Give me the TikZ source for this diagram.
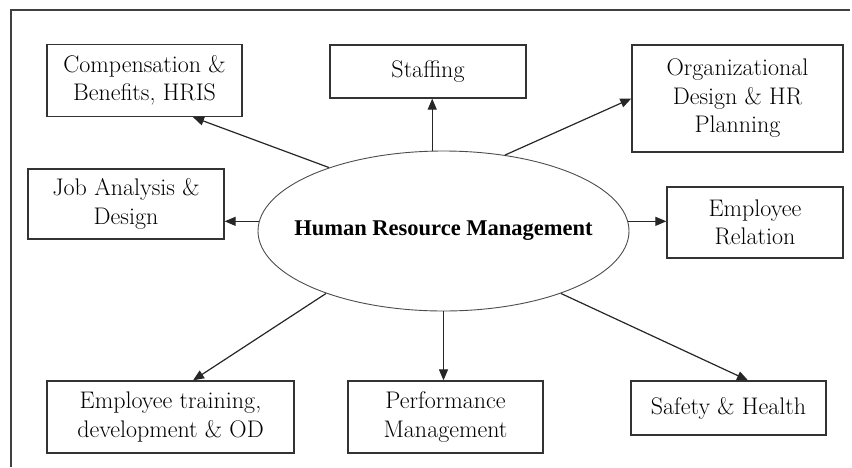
\documentclass[tikz,border=0pt]{standalone}
\usepackage{fontspec}
\newfontfamily\hrmfont{Liberation Serif}
\usetikzlibrary{shapes.geometric,arrows.meta}

\begin{document}
\begin{tikzpicture}[x=1pt,y=-1pt]
	\tikzset{area/.style={
			draw=black!80,
			line width=1.3pt,
			align=center,
			inner sep=0pt,
			font=\fontsize{24}{28.5}\selectfont},
		link/.style={-{Triangle[length=11pt,width=9pt]}, line width=1.2pt, black!85}}
	
	\useasboundingbox (0,0) rectangle (852,467);
	
	%% FRAME
	\draw[line width=1.3pt, black!75] (11,467) -- (11,10) -- (850,10);
	
	%% CENTRE
	\node[ellipse, draw=black!70, line width=0.9pt, minimum width=371, minimum height=160, inner sep=0pt] (HRM) at (443.5,231) {};
	\node[font=\hrmfont\bfseries\fontsize{22.5}{26}\selectfont, inner sep=0pt] (HRMText) at (HRM.center) {Human Resource Management};
	
	%% FUNCTIONS
	\node[area, minimum width=195, minimum height=72] (Comp) at (144.5,80.5) {Compensation \&\\Benefits, HRIS};
	\node[area, minimum width=196, minimum height=53] (Staff) at (428,71.5) {Staffing};
	\node[area, minimum width=211, minimum height=107] (Org) at (737.5,98.5) {Organizational\\Design \& HR\\Planning};
	\node[area, minimum width=196, minimum height=70] (Job) at (126,204) {Job Analysis \&\\Design};
	\node[area, minimum width=176, minimum height=71] (Rel) at (755,222.5) {Employee\\Relation};
	\node[area, minimum width=247, minimum height=72] (Train) at (170.5,417) {Employee training,\\development \& OD};
	\node[area, minimum width=195, minimum height=72] (Perf) at (445.5,417) {Performance\\Management};
	\node[area, minimum width=195, minimum height=54] (Safe) at (728.5,408) {Safety \& Health};
	
	\draw[link] (HRM.151) -- ([xshift=48.5pt]Comp.south);
	\draw[link] (HRM.98) -- (HRM.98 |- Staff.south);
	\draw[link] (HRM.51) -- (Org.west);
	\draw[link] (HRM.177) -- (HRM.177 -| Job.east);
	\draw[link] (HRM.3) -- (HRM.3 -| Rel.west);
	\draw[link] (HRM.208.6) -- ([xshift=22.5pt]Train.north);
	\draw[link] (HRM.south) -- (HRM.south |- Perf.north);
	\draw[link] (HRM.332.4) -- ([xshift=19.5pt]Safe.north);
	
\end{tikzpicture}
\end{document}
